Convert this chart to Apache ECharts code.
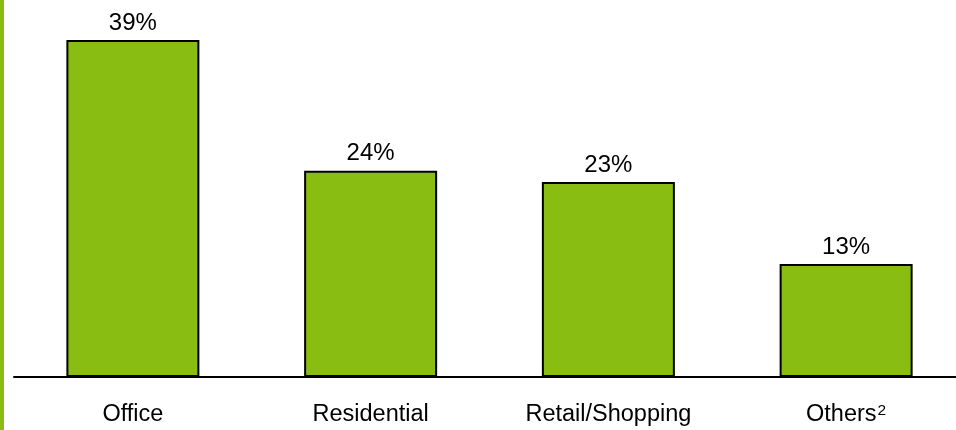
<!DOCTYPE html>
<html>
<head>
<meta charset="utf-8">
<script src="https://cdn.jsdelivr.net/npm/echarts@6/dist/echarts.min.js"></script>
<style>
  html, body { margin: 0; padding: 0; background: #fff; overflow: hidden; }
  /* a little wider than the window: the last band runs past the right edge */
  #chart { width: 965px; height: 430px; }
</style>
</head>
<body>
<div id="chart"></div>
<script>
const categories = ['Office', 'Residential', 'Retail/Shopping', 'Others²']
const shares = [39.4, 24.1, 22.8, 13.2]

const green = '#8abd12'
const font = '"Liberation Sans", Arial, sans-serif'

const chart = echarts.init(document.getElementById('chart'))
chart.setOption({
  animation: false,
  backgroundColor: '#fff',
  graphic: [{
    type: 'rect',
    left: 0, top: 0,
    shape: { width: 4, height: 430 },
    style: { fill: green }
  }],
  grid: { left: 14, right: 0, top: 40, bottom: 53 },
  xAxis: {
    type: 'category',
    data: categories,
    axisLine: { lineStyle: { color: '#000', width: 2 } },
    axisTick: { show: false },
    axisLabel: {
      color: '#000', fontSize: 23.5, fontFamily: font, margin: 26,
      // footnote mark as a real superscript
      formatter: v => v.replace('²', '{sup|2}'),
      rich: {
        sup: { fontSize: 15.5, lineHeight: 14, fontFamily: font, color: '#000', verticalAlign: 'top', padding: [0, 0, 0, 1] }
      }
    }
  },
  yAxis: {
    type: 'value',
    min: 0,
    max: 'dataMax',
    show: false
  },
  series: [{
    type: 'bar',
    data: shares,
    barWidth: 133,
    itemStyle: { color: green, borderColor: '#000', borderWidth: 2 },
    label: {
      show: true,
      position: 'top',
      distance: 5,
      color: '#000',
      fontSize: 24,
      fontFamily: font,
      formatter: p => Math.round(p.value) + '%'
    }
  }]
})
</script>
</body>
</html>
